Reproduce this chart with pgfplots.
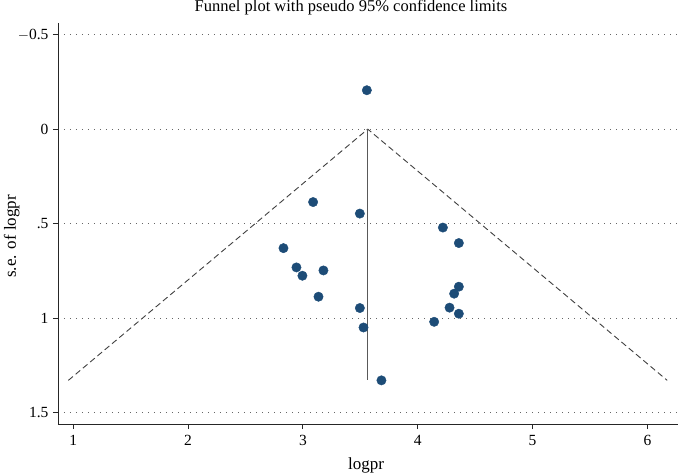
\documentclass[border=0pt]{standalone}
\usepackage{pgfplots}
\pgfplotsset{compat=1.18}
\usepackage{fontspec}
\setmainfont{Liberation Serif}
\definecolor{dotblue}{HTML}{1D4C77}
\begin{document}
\begin{tikzpicture}
\begin{axis}[
  scale only axis, width=620pt, height=401pt,
  xmin=0.868, xmax=6.266, ymin=-0.562, ymax=1.561, y dir=reverse,
  axis lines=left, axis line style={-, line width=0.9pt, black!85},
  xtick={1,2,3,4,5,6}, ytick={-0.5,0,0.5,1,1.5},
  yticklabels={$-$0.5,0,.5,1,1.5},
  tick align=outside, major tick length=5pt,
  tick style={black!85, line width=0.8pt},
  ymajorgrids, major grid style={black!60, dash pattern=on 1pt off 5pt, line width=0.8pt},
  /pgf/number format/assume math mode=true,
  tick label style={font=\fontsize{15.5}{17}\selectfont},
  xticklabel style={yshift=-3pt},
  every axis title shift=0pt,
  title={Funnel plot with pseudo 95\% confidence limits},
  title style={at={(axis description cs:0.4726,1)}, anchor=base, yshift=11pt, font=\fontsize{16.5}{18}\selectfont},
  xlabel={logpr},
  xlabel style={at={(axis description cs:0.497,0)}, anchor=base, yshift=-45pt, font=\fontsize{17}{18}\selectfont},
  ylabel={s.e. of logpr},
  ylabel style={at={(axis description cs:-0.068,0.468)}, anchor=base, rotate=0, font=\fontsize{17}{18}\selectfont},
  yticklabel style={xshift=-1pt},
]
\addplot[black!75, line width=0.9pt, dash pattern=on 6pt off 3.5pt] coordinates {(0.958,1.33) (3.565,0) (6.172,1.33)};
\addplot[black!65, line width=1pt] coordinates {(3.565,0) (3.565,1.33)};
\addplot[only marks, mark=*, mark size=4.7pt, mark options={fill=dotblue, draw=dotblue}] coordinates {
(3.557,-0.206)
(3.089,0.386)
(3.496,0.447)
(4.219,0.521)
(4.358,0.603)
(2.831,0.630)
(2.944,0.732)
(2.996,0.776)
(3.179,0.748)
(3.136,0.887)
(4.358,0.834)
(4.317,0.871)
(4.277,0.945)
(4.358,0.977)
(3.496,0.947)
(3.528,1.050)
(4.143,1.020)
(3.684,1.330)
};
\end{axis}
\pgfresetboundingbox
\path (current axis.south west) ++(-58pt,-50pt) coordinate (bbA);
\path (current axis.north east) ++(0pt,23pt) coordinate (bbB);
\path (bbA) rectangle (bbB);
\end{tikzpicture}
\end{document}
